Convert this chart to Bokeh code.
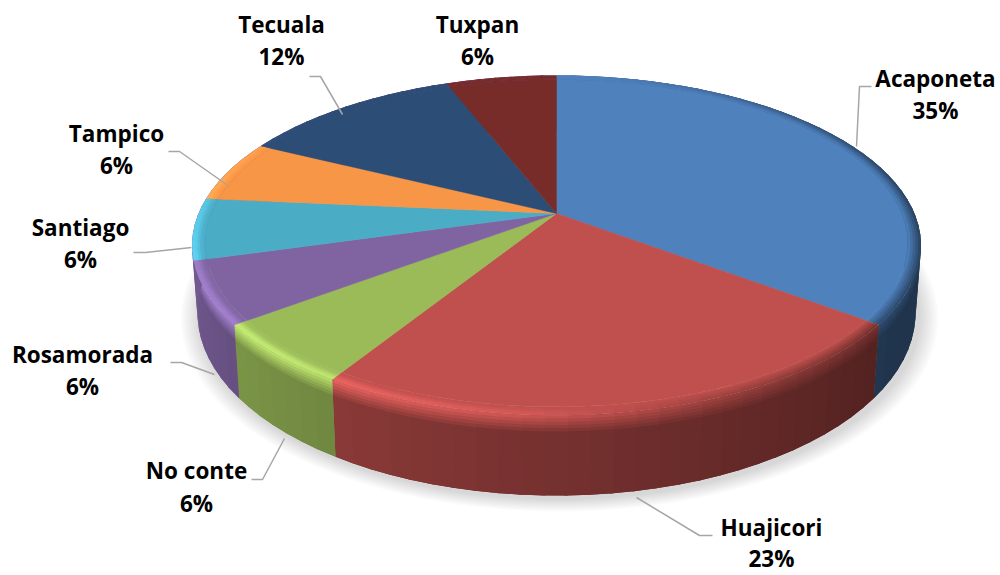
import math
import numpy as np
from bokeh.plotting import figure
from bokeh.core.properties import value
from bokeh.embed import file_html
from bokeh.resources import INLINE

categories = ["Acaponeta", "Huajicori", "No conte", "Rosamorada", "Santiago", "Tampico", "Tecuala", "Tuxpan"]
counts = [6, 4, 1, 1, 1, 1, 2, 1]
percent_labels = ["35%", "23%", "6%", "6%", "6%", "6%", "12%", "6%"]
colors = ["#4F81BD", "#C0504D", "#9BBB59", "#8064A2", "#4BACC6", "#F79646", "#2C4D75", "#772C2A"]

# layout of the callouts, in page pixels
label_x = [935, 771, 196, 82, 80, 116, 281, 477]
name_y = [80, 529, 472, 356, 229, 135, 26, 26]
pct_y = [112, 560, 505, 388, 261, 167, 58, 58]
leader_x = [[856, 859, 871], [636, 699, 712], [284, 262, 251], [214, 181, 170],
            [191, 145, 133], [226, 179, 168], [342, 320, 309]]
leader_y = [[146, 86, 86], [497, 535, 535], [438, 479, 479], [374, 362, 362],
            [247, 252, 252], [184, 151, 151], [114, 76, 76]]

# projection of the disc
CX, CY, A, B, K, DEPTH = 556.0, 213.0, 358.0, 164.0, 0.188, 65.0
RIM = 0.965


def proj(theta, r=1.0, z=0.0):
    t = np.radians(theta)
    u, v = r * np.sin(t), r * np.cos(t)
    w = 1 + K * v
    x = CX + A * u / w
    y = CY - B * v / w + z * DEPTH / w
    return CX + (x - CX) * (1 - 0.015 * z), y


def rgb(h):
    return np.array([int(h[i:i + 2], 16) for i in (1, 3, 5)], dtype=float)


def tohex(c):
    c = np.clip(np.round(c), 0, 255).astype(int)
    return "#%02x%02x%02x" % tuple(c)


def lerp(a, b, t):
    return a + (b - a) * t


def rim_color(base, theta, t):
    light = 0.24 * max(0.0, math.cos(math.radians(theta - 235))) ** 2 * math.exp(-((t - 0.85) / 0.45) ** 2)
    dark = 0.50 * max(0.0, math.cos(math.radians(theta - 95))) ** 1.2 * t
    c = base * (1 + light) + 12 * light
    return lerp(c, np.zeros(3), dark)


def side_color(base, theta):
    th = theta % 360
    f = min(0.88, max(0.40, 0.40 + (th - 120) * 0.0035))
    return base * f


p = figure(width=1000, height=575, x_range=(0, 1000), y_range=(575, 0), toolbar_location=None,
           output_backend="svg", min_border=0, outline_line_color=None)
p.axis.visible = False
p.grid.visible = False
p.background_fill_color = "white"
p.border_fill_color = "white"

# soft shadow under the disc
circle = np.arange(0, 360, 2.0)
for k in range(10):
    x, y = proj(circle, 1.0, 1.0)
    grow = 1 + (10 - k) * 0.0055
    sx = CX + (x - CX) * grow + 3
    sy = (CY + 45) + (y - (CY + 45)) * grow + 3
    p.patch(sx, sy, fill_color="#000000", fill_alpha=0.016, line_color=None)

total = sum(counts)
edges = np.concatenate([[0], np.cumsum(counts)]) / total * 360.0
# wedges beyond the left extreme of the disc show no side of their own
left_owner = int(np.searchsorted(edges, 250.0)) - 1

under_xs, under_ys, under_cs = [], [], []
side_xs, side_ys, side_cs = [], [], []
rim_xs, rim_ys, rim_cs = [], [], []
face_xs, face_ys, face_cs = [], [], []
z_bands = [0.0, 0.04, 0.08, 0.12, 0.16, 0.20, 0.25, 1.0]
r_bands = [RIM, RIM + 0.007, RIM + 0.014, RIM + 0.021, RIM + 0.028, 1.0]
OVER = 0.5

for idx, (col, t0, t1) in enumerate(zip(colors, edges[:-1], edges[1:])):
    base = rgb(col)
    side_base = rgb(colors[min(idx, left_owner)]) if t0 >= 250 else base
    n = max(2, int((t1 - t0) / 3.0))
    grid = np.linspace(t0, t1, n + 1)
    # top face
    ax, ay = proj(grid, RIM)
    face_xs.append(np.concatenate([[CX], ax]).tolist())
    face_ys.append(np.concatenate([[CY], ay]).tolist())
    face_cs.append(col)
    # solid side underlay so that no seam shows between the strips
    ux0, uy0 = proj(grid, 1.0, 0.0)
    ux1, uy1 = proj(grid[::-1], 1.0, 1.0)
    under_xs.append(np.concatenate([ux0, ux1]).tolist())
    under_ys.append(np.concatenate([uy0, uy1]).tolist())
    under_cs.append(tohex(side_color(side_base, (t0 + t1) / 2)))
    for a0, a1 in zip(grid[:-1], grid[1:]):
        mid = (a0 + a1) / 2
        a1x = min(a1 + OVER, t1)
        for i in range(len(z_bands) - 1):
            zc = (z_bands[i] + z_bands[i + 1]) / 2
            if i == len(z_bands) - 2:
                c = side_color(side_base, mid)
            else:
                c = lerp(rim_color(side_base, mid, 1.0), side_color(side_base, mid), min(1.0, zc / 0.22))
            z_next = min(z_bands[i + 1] + 0.01, 1.0)
            x0, y0 = proj(a0, 1.0, z_bands[i])
            x1, y1 = proj(a1x, 1.0, z_bands[i])
            x2, y2 = proj(a1x, 1.0, z_next)
            x3, y3 = proj(a0, 1.0, z_next)
            side_xs.append([x0, x1, x2, x3])
            side_ys.append([y0, y1, y2, y3])
            side_cs.append(tohex(c))
        for i in range(len(r_bands) - 1):
            rc = (r_bands[i] + r_bands[i + 1]) / 2
            c = rim_color(base, mid, (rc - RIM) / (1 - RIM))
            r_next = min(r_bands[i + 1] + 0.003, 1.0)
            x0, y0 = proj(a0, r_bands[i])
            x1, y1 = proj(a1x, r_bands[i])
            x2, y2 = proj(a1x, r_next)
            x3, y3 = proj(a0, r_next)
            rim_xs.append([x0, x1, x2, x3])
            rim_ys.append([y0, y1, y2, y3])
            rim_cs.append(tohex(c))

p.patches(under_xs, under_ys, fill_color=under_cs, line_color=None)
p.patches(side_xs, side_ys, fill_color=side_cs, line_color=None)
p.patches(face_xs, face_ys, fill_color=face_cs, line_color=face_cs, line_width=0.5)
p.patches(rim_xs, rim_ys, fill_color=rim_cs, line_color=None)

p.multi_line(leader_x, leader_y, line_color="#a6a6a6", line_width=1.5)

font = dict(text_font=value("Open Sans"), text_font_style="bold", text_font_size="22.5px", text_color="#000000",
            text_align="center", text_baseline="middle", y_offset=-2)
p.text(label_x, name_y, text=categories, **font)
p.text(label_x, pct_y, text=percent_labels, **font)

open("out.html", "w").write(file_html(p, INLINE))
